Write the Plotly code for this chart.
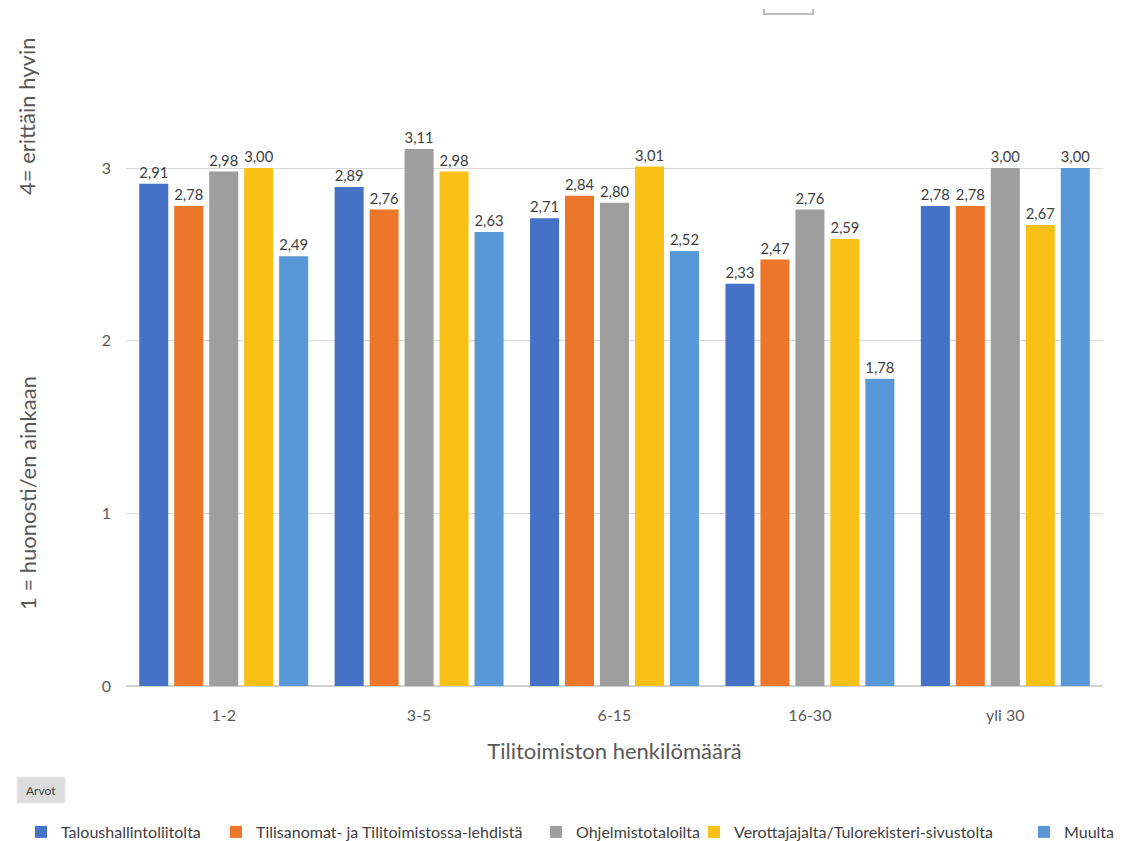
import plotly.graph_objects as go

categories = ["1-2", "3-5", "6-15", "16-30", "yli 30"]
series_names = [
    "Taloushallintoliitolta",
    "Tilisanomat- ja Tilitoimistossa-lehdistä",
    "Ohjelmistotaloilta",
    "Verottajajalta/Tulorekisteri-sivustolta",
    "Muulta",
]
talous = [2.91, 2.89, 2.71, 2.33, 2.78]
tilisanomat = [2.78, 2.76, 2.84, 2.47, 2.78]
ohjelmisto = [2.98, 3.11, 2.80, 2.76, 3.00]
verottaja = [3.00, 2.98, 3.01, 2.59, 2.67]
muulta = [2.49, 2.63, 2.52, 1.78, 3.00]
y_ticks = [0, 1, 2, 3]

series_values = [talous, tilisanomat, ohjelmisto, verottaja, muulta]
colors = ["#4672C6", "#EC772B", "#9E9E9E", "#F9C015", "#5898D6"]
legend_text_x = [55, 250, 570, 728, 1058]

W, H = 1140, 841
L, R, T, B = 126, 37, 30, 155
pw, ph = W - L - R, H - T - B


def px(x):
    return (x - L) / pw


def py(y):
    return (H - B - y) / ph


fig = go.Figure()
legend_layout = {}
for i, (name, vals, col) in enumerate(zip(series_names, series_values, colors)):
    lname = "legend" if i == 0 else f"legend{i + 1}"
    fig.add_trace(go.Bar(
        x=categories, y=vals, name=name,
        marker=dict(color=col, line=dict(width=0)),
        text=[f"{v:.2f}".replace(".", ",") for v in vals],
        textposition="outside",
        textfont=dict(family="Lato", size=16, color="#404040"),
        cliponaxis=False,
        legend=lname,
    ))
    legend_layout[lname] = dict(
        orientation="h", x=px(legend_text_x[i] - 34), y=py(832),
        xanchor="left", yanchor="middle",
        font=dict(family="Lato", size=16, color="#404040"),
        itemwidth=30, bgcolor="rgba(0,0,0,0)",
    )

fig.update_layout(
    width=W, height=H,
    margin=dict(l=L, r=R, t=T, b=B, autoexpand=False),
    paper_bgcolor="white", plot_bgcolor="white",
    barmode="group", bargap=0.105, bargroupgap=0.17,
    font=dict(family="Lato", color="#595959"),
    showlegend=True,
    xaxis=dict(
        showgrid=False, showline=False, ticks="", ticklabelstandoff=18,
        tickfont=dict(size=16, color="#595959"),
        title=dict(text="Tilitoimiston henkilömäärä", font=dict(size=22, color="#595959"), standoff=20),
    ),
    yaxis=dict(
        range=[0, 3.8], tickvals=y_ticks, ticktext=[str(t) for t in y_ticks],
        showgrid=True, gridcolor="#D9D9D9", gridwidth=1,
        zeroline=True, zerolinecolor="#D0D0D0", zerolinewidth=2,
        showline=False, ticks="", ticklabelstandoff=14,
        tickfont=dict(size=16, color="#595959"),
    ),
    shapes=[
        dict(type="rect", xref="paper", yref="paper",
             x0=px(17), x1=px(65), y0=py(803), y1=py(777),
             fillcolor="#DCDCDC", line=dict(color="#EBEBEB", width=1)),
        dict(type="path", xref="paper", yref="paper",
             path=f"M {px(764)},{py(9)} L {px(764)},{py(14)} L {px(813)},{py(14)} L {px(813)},{py(9)}",
             line=dict(color="#BDBDBD", width=2)),
    ],
    annotations=[
        dict(text="Arvot", xref="paper", yref="paper", x=px(41), y=py(790),
             xanchor="center", yanchor="middle",
             showarrow=False, font=dict(family="Liberation Sans Narrow, Lato", size=12, color="#404040")),
        dict(text="1 = huonosti/en ainkaan", xref="paper", yref="paper", x=px(27), y=py(493),
             xanchor="center", yanchor="middle",
             textangle=-90, showarrow=False, font=dict(family="Lato", size=22, color="#595959")),
        dict(text="4= erittäin hyvin", xref="paper", yref="paper", x=px(27), y=py(117),
             xanchor="center", yanchor="middle",
             textangle=-90, showarrow=False, font=dict(family="Lato", size=22, color="#595959")),
    ],
    **legend_layout,
)

fig.write_html("out.html")
